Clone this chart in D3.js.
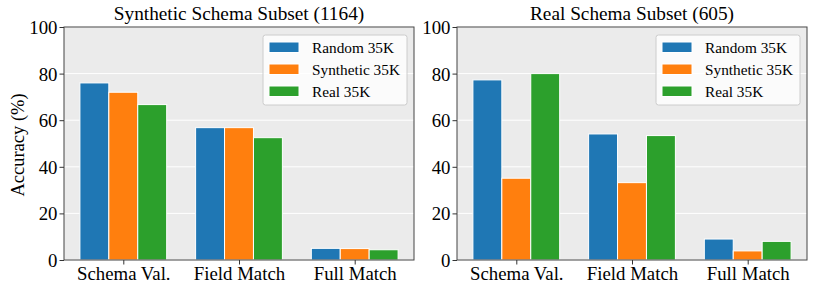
<!DOCTYPE html>
<html>
<head>
<meta charset="utf-8">
<script src="https://cdn.jsdelivr.net/npm/d3@7"></script>
<style>
  body { margin: 0; background: #fff; }
  svg text { font-family: "Liberation Serif", "Times New Roman", serif; fill: #000; }
</style>
</head>
<body>
<script>
var svgWidth = 817;
var svgHeight = 292;

// data
var categories = ["Schema Val.", "Field Match", "Full Match"];
var seriesNames = ["Random 35K", "Synthetic 35K", "Real 35K"];
var colors = ["#1f77b4", "#ff7f0e", "#2ca02c"];

var syntheticTitle = "Synthetic Schema Subset (1164)";
var syntheticRandom = [76.0, 56.8, 5.0];
var syntheticSynthetic = [72.0, 56.8, 4.9];
var syntheticReal = [66.7, 52.5, 4.4];

var realTitle = "Real Schema Subset (605)";
var realRandom = [77.3, 54.1, 9.0];
var realSynthetic = [35.1, 33.2, 3.9];
var realReal = [80.0, 53.4, 8.0];

var yTicks = [0, 20, 40, 60, 80, 100];

var panels = [
  { title: syntheticTitle, series: [syntheticRandom, syntheticSynthetic, syntheticReal], left: 64, ylabel: "Accuracy (%)" },
  { title: realTitle, series: [realRandom, realSynthetic, realReal], left: 457, ylabel: null }
];

var plotW = 350;
var plotTop = 27;
var plotBottom = 260;
var barW = 0.25;

var svg = d3.select("body")
  .append("svg")
  .attr("width", svgWidth)
  .attr("height", svgHeight);

panels.forEach(function(p) {
  var g = svg.append("g").attr("transform", `translate(${p.left}, 0)`);

  var xScale = d3.scaleLinear().domain([-0.5125, 2.5125]).range([0, plotW]);
  var yScale = d3.scaleLinear().domain([0, 100]).range([plotBottom, plotTop]);

  // background
  g.append("rect")
    .attr("x", 0).attr("y", plotTop)
    .attr("width", plotW).attr("height", plotBottom - plotTop)
    .attr("fill", "#ebebeb");

  // grid
  g.selectAll(".grid")
    .data(yTicks).enter()
    .append("line")
    .attr("x1", 0).attr("x2", plotW)
    .attr("y1", d => yScale(d)).attr("y2", d => yScale(d))
    .attr("stroke", "#fff").attr("stroke-width", 1);

  // bars
  p.series.forEach(function(vals, si) {
    g.selectAll(".bar" + si)
      .data(vals).enter()
      .append("rect")
      .attr("x", (d, i) => xScale(i + (si - 1) * barW - barW / 2))
      .attr("width", xScale(barW) - xScale(0))
      .attr("y", d => yScale(d))
      .attr("height", d => yScale(0) - yScale(d))
      .attr("fill", colors[si])
      .attr("stroke", "#fff")
      .attr("stroke-width", 1);
  });

  // frame
  g.append("rect")
    .attr("x", 0).attr("y", plotTop)
    .attr("width", plotW).attr("height", plotBottom - plotTop)
    .attr("fill", "none")
    .attr("stroke", "#444").attr("stroke-width", 1);

  // axes
  var yAxis = d3.axisLeft(yScale).tickValues(yTicks).tickSize(4.5).tickPadding(2);
  var ya = g.append("g").call(yAxis);
  ya.select(".domain").remove();
  ya.selectAll("line").attr("stroke", "#333");
  ya.selectAll("text").style("font-size", "18.8px").attr("dy", "0.34em");

  var xAxis = d3.axisBottom(xScale)
    .tickValues([0, 1, 2])
    .tickFormat((d, i) => categories[i])
    .tickSize(4.5).tickPadding(2);
  var xa = g.append("g").attr("transform", `translate(0, ${plotBottom})`).call(xAxis);
  xa.select(".domain").remove();
  xa.selectAll("line").attr("stroke", "#333");
  xa.selectAll("text").style("font-size", "18.8px").attr("dy", "0.71em");

  // title
  g.append("text")
    .attr("x", plotW / 2).attr("y", 20)
    .attr("text-anchor", "middle")
    .style("font-size", "19.3px")
    .text(p.title);

  if (p.ylabel) {
    g.append("text")
      .attr("transform", `translate(-40, 145) rotate(-90)`)
      .attr("text-anchor", "middle")
      .style("font-size", "18.5px")
      .text(p.ylabel);
  }

  // legend
  var lx = plotW - 7 - 144;
  var lg = g.append("g").attr("transform", `translate(${lx}, 35)`);
  lg.append("rect")
    .attr("width", 144).attr("height", 70)
    .attr("rx", 2.5)
    .attr("fill", "#fff").attr("fill-opacity", 0.8)
    .attr("stroke", "#ccc").attr("stroke-width", 1);
  seriesNames.forEach(function(name, i) {
    lg.append("rect")
      .attr("x", 6).attr("y", 7 + i * 22)
      .attr("width", 30).attr("height", 10.5)
      .attr("fill", colors[i])
      .attr("stroke", "#fff").attr("stroke-width", 1);
    lg.append("text")
      .attr("x", 49).attr("y", 12.5 + i * 22)
      .attr("dy", "0.35em")
      .style("font-size", "15.3px")
      .text(name);
  });
});
</script>
</body>
</html>
